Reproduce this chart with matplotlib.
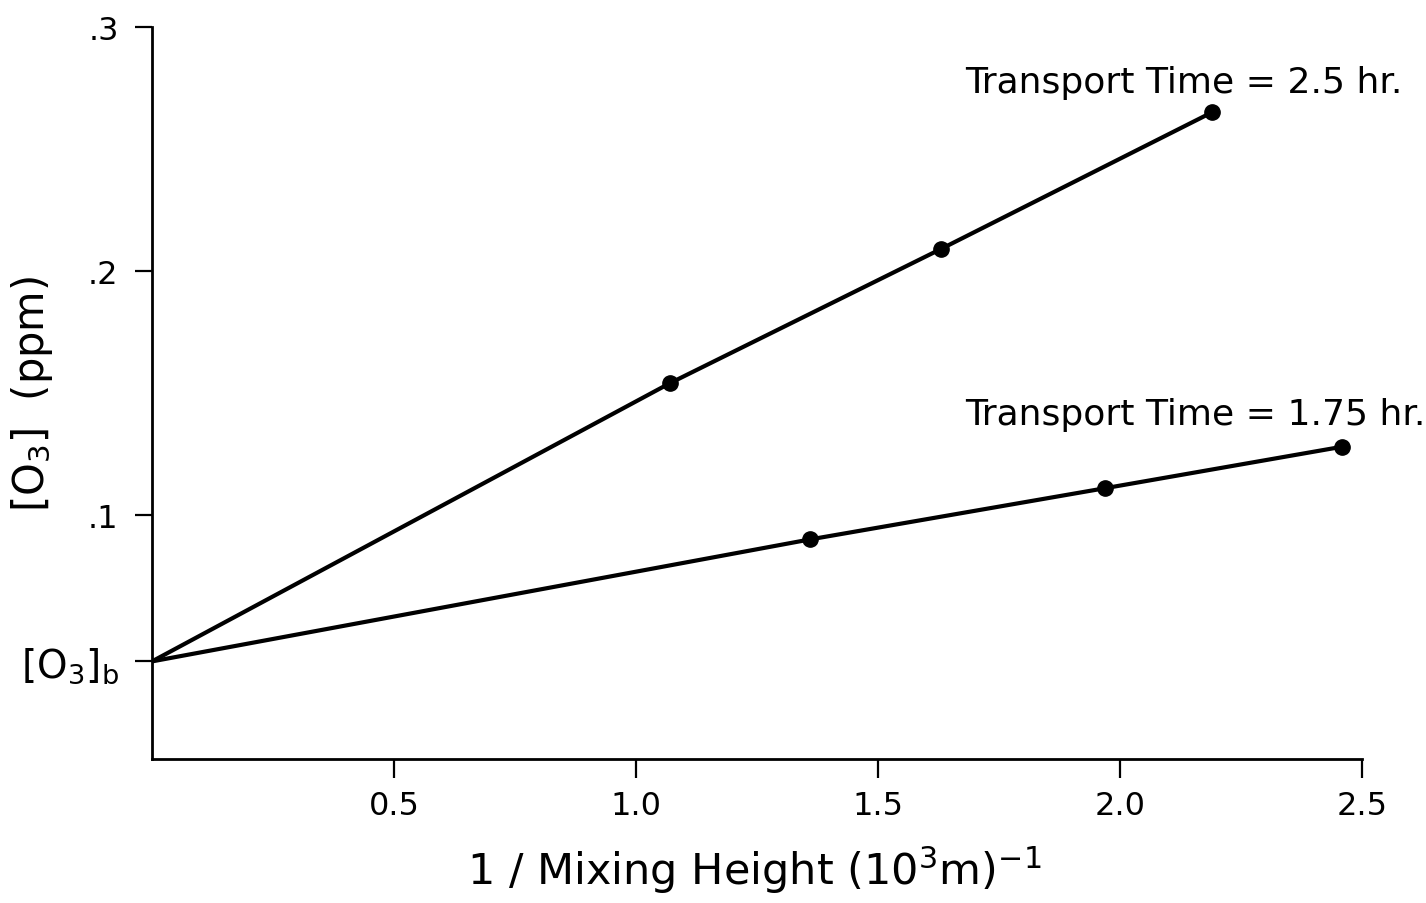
import numpy as np
import matplotlib
matplotlib.use("Agg")
import matplotlib.pyplot as plt

# ── data ───────────────────────────────────────────────────────────────────
o3_background = 0.04
x_long = [1.07, 1.63, 2.19]          # transport time = 2.5 hr
y_long = [0.154, 0.209, 0.265]
x_short = [1.36, 1.97, 2.46]         # transport time = 1.75 hr
y_short = [0.090, 0.111, 0.128]

ytick_vals = [o3_background, 0.1, 0.2, 0.3]
ytick_labels = ["[O$_3$]$_\\mathrm{b}$", ".1", ".2", ".3"]
xtick_vals = [0.5, 1.0, 1.5, 2.0, 2.5]
xtick_labels = ["0.5", "1.0", "1.5", "2.0", "2.5"]

plt.rcParams["font.family"] = ["DejaVu Sans"]
plt.rcParams["mathtext.default"] = "regular"

fig = plt.figure(figsize=(14.26, 9.04), dpi=100)
ax = fig.add_axes([0.1066, 0.1593, 0.8484, 0.8097])

for xs, ys in [(x_long, y_long), (x_short, y_short)]:
    ax.plot([0] + xs, [o3_background] + ys, color="black", lw=3.0,
            marker="o", ms=11, markevery=list(range(1, len(xs) + 1)),
            solid_capstyle="round")

ax.text(1.68, 0.2734, "Transport Time = 2.5 hr.", fontsize=26,
        ha="left", va="baseline")
ax.text(1.68, 0.1372, "Transport Time = 1.75 hr.", fontsize=26,
        ha="left", va="baseline")

ax.set_xlim(0, 2.5)
ax.set_ylim(0, 0.3)
ax.set_xticks(xtick_vals)
ax.set_xticklabels(xtick_labels, fontsize=23)
ax.set_yticks(ytick_vals)
ax.set_yticklabels(ytick_labels, fontsize=23)
ax.get_yticklabels()[0].set_fontsize(28)
ax.tick_params(axis="y", direction="out", length=12, width=1.6, pad=12)
ax.tick_params(axis="x", direction="out", length=14, width=1.6, pad=8)

for side in ["top", "right"]:
    ax.spines[side].set_visible(False)
for side in ["left", "bottom"]:
    ax.spines[side].set_linewidth(2.0)

ax.set_xlabel("1 / Mixing Height (10$^3$m)$^{-1}$", fontsize=31)
ax.xaxis.set_label_coords(0.4975, -0.115)
ax.set_ylabel("[O$_3$]  (ppm)", fontsize=30)
ax.yaxis.set_label_coords(-0.08, 0.5)

fig.savefig("out.png", dpi=100)
